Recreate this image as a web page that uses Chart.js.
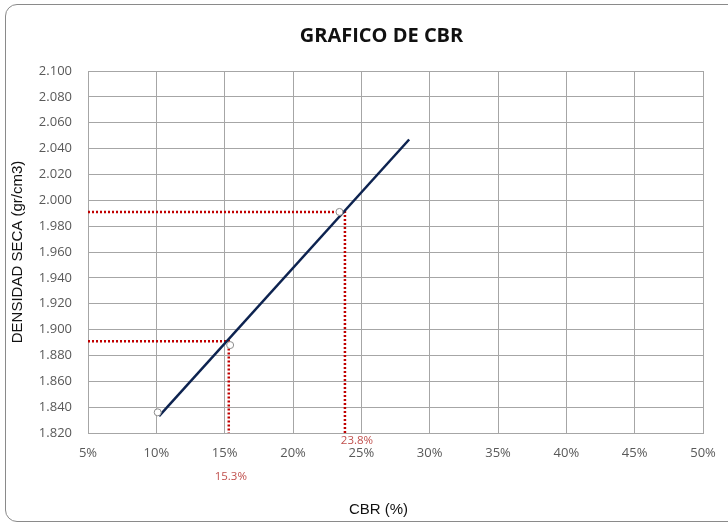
<!DOCTYPE html>
<html lang="es">
<head>
    <meta charset="UTF-8">
    <title>Grafico de CBR</title>
    <script src="https://cdn.jsdelivr.net/npm/chart.js"></script>
    <style>
        html, body {
            margin: 0;
            padding: 0;
            background: #fff;
            overflow: hidden;
        }
        .frame {
            position: absolute;
            left: 5px;
            top: 4px;
            width: 740px;
            height: 516px;
            border: 1.5px solid #8a8a8a;
            border-radius: 12px;
        }
        .chart-box {
            position: absolute;
            left: 0;
            top: 0;
            width: 728px;
            height: 527px;
        }
    </style>
</head>
<body>
    <div class="frame"></div>
    <div class="chart-box">
        <canvas id="cbrChart"></canvas>
    </div>

    <script>
        // Ensayo: puntos medidos (CBR %, densidad seca gr/cm3)
        const cbrPoints = [10.1, 15.4, 23.4];
        const densPoints = [1.836, 1.888, 1.991];

        // Recta de ajuste
        const trendCbr = [10.2, 28.5];
        const trendDens = [1.833, 2.047];

        // Densidad maxima y 95%, con su CBR
        const densMax = 1.991;
        const dens95 = 1.891;
        const cbr100 = 23.8;
        const cbr95 = 15.3;

        // Ejes y textos
        const xMin = 5, xMax = 50, xStep = 5;
        const yMin = 1.82, yMax = 2.10, yStep = 0.02;
        const chartTitle = 'GRAFICO DE CBR';
        const xTitle = 'CBR (%)';

        const gridColor = '#a6a6a6';
        const red = '#c00000';

        const guide = (dens, cbr) => [
            { x: xMin, y: dens },
            { x: cbr, y: dens },
            { x: cbr, y: yMin }
        ];

        // Titulo, titulo del eje X y etiquetas rojas con el CBR leido
        const cbrLabels = {
            id: 'cbrLabels',
            afterDatasetsDraw(chart) {
                const { ctx, scales: { x }, chartArea } = chart;
                const mid = (chartArea.left + chartArea.right) / 2;
                ctx.save();
                ctx.textAlign = 'center';
                ctx.textBaseline = 'middle';

                ctx.font = 'bold 20px "Open Sans"';
                ctx.fillStyle = '#111';
                ctx.fillText(chartTitle, mid - 14, 36);

                ctx.font = '15px "Liberation Sans"';
                ctx.fillText(xTitle, mid - 17, chartArea.bottom + 77);

                ctx.font = '11.5px "Open Sans"';
                ctx.fillStyle = '#c0504d';
                ctx.fillText(cbr100.toFixed(1) + '%', x.getPixelForValue(cbr100) + 12, chartArea.bottom + 8);
                ctx.fillText(cbr95.toFixed(1) + '%', x.getPixelForValue(cbr95) + 2, chartArea.bottom + 44);
                ctx.restore();
            }
        };

        const ctx = document.getElementById('cbrChart').getContext('2d');
        new Chart(ctx, {
            type: 'scatter',
            data: {
                datasets: [
                    {
                        label: 'Ensayo',
                        data: cbrPoints.map((c, i) => ({ x: c, y: densPoints[i] })),
                        showLine: false,
                        pointRadius: 3.5,
                        pointBackgroundColor: '#fff',
                        pointBorderColor: '#8c8c8c',
                        pointBorderWidth: 1,
                        order: 1
                    },
                    {
                        label: 'Ajuste',
                        data: trendCbr.map((c, i) => ({ x: c, y: trendDens[i] })),
                        showLine: true,
                        borderColor: '#0d2350',
                        borderWidth: 2.5,
                        pointRadius: 0,
                        order: 2
                    },
                    {
                        label: '100%',
                        data: guide(densMax, cbr100),
                        showLine: true,
                        borderColor: red,
                        borderWidth: 2.5,
                        borderDash: [2, 2],
                        borderCapStyle: 'butt',
                        pointRadius: 0,
                        order: 3
                    },
                    {
                        label: '95%',
                        data: guide(dens95, cbr95),
                        showLine: true,
                        borderColor: red,
                        borderWidth: 2.5,
                        borderDash: [2, 2],
                        borderCapStyle: 'butt',
                        pointRadius: 0,
                        order: 3
                    }
                ]
            },
            options: {
                responsive: true,
                maintainAspectRatio: false,
                animation: false,
                layout: {
                    padding: { left: 0, right: 25, top: 71, bottom: 0 }
                },
                plugins: {
                    legend: { display: false },
                    tooltip: { enabled: false },
                    title: { display: false }
                },
                scales: {
                    x: {
                        type: 'linear',
                        min: xMin,
                        max: xMax,
                        afterFit: s => { s.height = 94; },
                        grid: { color: gridColor, drawTicks: false },
                        border: { color: gridColor },
                        ticks: {
                            stepSize: xStep,
                            padding: 12,
                            color: '#595959',
                            font: { family: '"Open Sans"', size: 13 },
                            callback: v => v + '%'
                        }
                    },
                    y: {
                        min: yMin,
                        max: yMax,
                        afterFit: s => { s.width = 88; },
                        grid: { color: gridColor, drawTicks: false },
                        border: { color: gridColor },
                        ticks: {
                            stepSize: yStep,
                            padding: 16,
                            color: '#595959',
                            font: { family: '"Open Sans"', size: 13 },
                            callback: v => v.toFixed(3)
                        },
                        title: {
                            display: true,
                            text: 'DENSIDAD SECA (gr/cm3)',
                            color: '#111',
                            font: { family: '"Liberation Sans"', size: 15 },
                            padding: { top: 9, bottom: 4 }
                        }
                    }
                }
            },
            plugins: [cbrLabels]
        });
    </script>
</body>
</html>
